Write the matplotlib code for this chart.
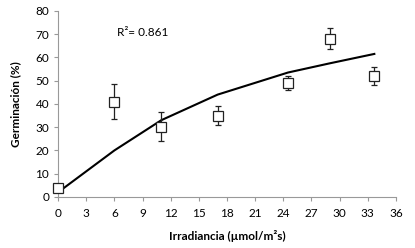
import matplotlib
matplotlib.use("Agg")
import matplotlib.pyplot as plt

plt.rcParams['font.family'] = ['Lato', 'DejaVu Sans']

# measured data
irr = [0, 6, 11, 17, 24.5, 29, 33.7]
germ = [4, 41, 30, 35, 49, 68, 52]
err_lo = [0.5, 7.5, 6, 4, 3, 4.5, 4]
err_hi = [0.5, 7.5, 6.5, 4, 3, 4.5, 4]

# fitted curve values at the same x
fit = [2, 20, 33, 44, 53.5, 57.5, 61.5]

fig = plt.figure(figsize=(4.15, 2.48), dpi=100)
ax = fig.add_axes([0.140, 0.206, 0.814, 0.750])

ax.plot(irr, fit, color='black', lw=1.5, zorder=2)
eb = ax.errorbar(irr, germ, yerr=[err_lo, err_hi], fmt='s', ms=7, mfc='white',
                 mec='#222222', mew=0.9, ecolor='#222222', elinewidth=0.9,
                 capsize=2.5, capthick=0.9, zorder=3)
eb[0].set_clip_on(False)

ax.set_xlim(0, 36)
ax.set_ylim(0, 80)
ax.set_xticks(range(0, 37, 3))
ax.set_yticks(range(0, 81, 10))

for s in ['top', 'right']:
    ax.spines[s].set_visible(False)
for s in ['left', 'bottom']:
    ax.spines[s].set_color('#999999')
    ax.spines[s].set_linewidth(0.8)
ax.tick_params(colors='#999999', labelcolor='black', labelsize=8.5, length=3, width=0.8)
ax.tick_params(axis='x', pad=5)

ax.set_xlabel('Irradiancia (µmol/m²s)', fontsize=8.5, fontweight='bold', labelpad=8)
ax.set_ylabel('Germinación (%)', fontsize=8.5, fontweight='bold', labelpad=10)

ax.text(6.3, 69, 'R²= 0.861', fontsize=8.5)

fig.savefig('out.png', dpi=100)
